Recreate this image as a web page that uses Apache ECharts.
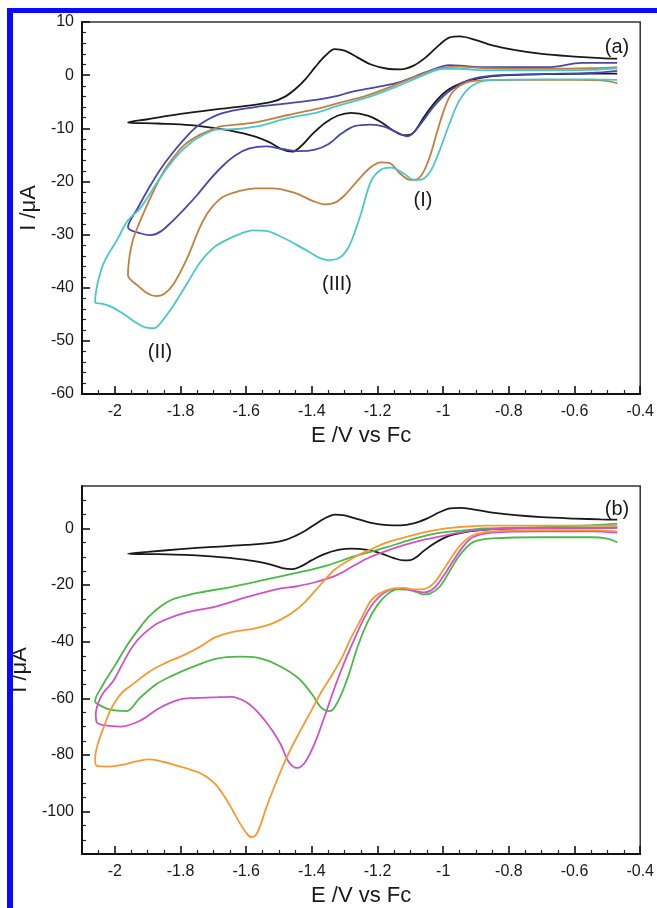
<!DOCTYPE html>
<html><head><meta charset="utf-8">
<script src="https://cdn.jsdelivr.net/npm/echarts@6/dist/echarts.min.js"></script>
<style>html,body{margin:0;padding:0;background:#fff}#c{width:657px;height:908px}</style>
</head><body><div id="c"></div>
<script>
// ---------- tick labels ----------
const xMajorTicks = [-2, -1.8, -1.6, -1.4, -1.2, -1, -0.8, -0.6, -0.4];
const yMajorTicksA = [-60, -50, -40, -30, -20, -10, 0, 10];
const yMajorTicksB = [-100, -80, -60, -40, -20, 0];

// ---------- data: [E (V vs Fc), I (uA)], scan order ----------
const blackCV = [
  [-0.47,0.3],[-0.55,0.3],[-0.65,0.2],[-0.75,0.1],[-0.85,-0.2],[-0.92,-1.0],[-0.97,-2.2],[-1.0,-3.5],
  [-1.03,-5.5],[-1.06,-8.0],[-1.08,-10.0],[-1.10,-11.2],[-1.12,-11.3],[-1.15,-10.5],[-1.19,-8.8],
  [-1.23,-7.6],[-1.28,-7.1],[-1.32,-7.6],[-1.36,-9.0],[-1.40,-11.2],[-1.43,-13.2],[-1.46,-14.4],
  [-1.49,-14.0],[-1.53,-12.6],[-1.57,-11.6],[-1.62,-10.8],[-1.68,-10.1],[-1.77,-9.4],[-1.87,-9.1],
  [-1.96,-8.9],
  [-1.90,-8.3],[-1.80,-7.3],[-1.70,-6.5],[-1.60,-5.8],[-1.52,-5.0],[-1.48,-4.0],[-1.45,-2.6],
  [-1.42,-0.8],[-1.39,1.5],[-1.36,3.6],[-1.33,4.9],[-1.30,4.6],[-1.26,3.3],[-1.22,2.0],[-1.17,1.2],
  [-1.13,1.1],[-1.09,1.8],[-1.05,3.5],[-1.01,5.8],[-0.98,7.1],[-0.95,7.3],[-0.90,6.6],[-0.85,5.6],
  [-0.78,4.7],[-0.70,4.0],[-0.60,3.5],[-0.52,3.2],[-0.47,3.1]
];
const blueCV_a = [
  [-0.47,0.8],[-0.55,0.4],[-0.7,0.2],[-0.85,-0.1],[-0.92,-0.9],[-0.97,-2.5],[-1.0,-4.0],[-1.03,-6.0],
  [-1.06,-8.5],[-1.09,-10.8],[-1.11,-11.5],[-1.14,-10.8],[-1.18,-9.7],[-1.22,-9.3],[-1.27,-9.6],
  [-1.31,-11.0],[-1.35,-13.0],[-1.39,-14.0],[-1.44,-14.3],[-1.49,-13.9],[-1.54,-13.4],[-1.59,-13.8],
  [-1.63,-15.0],[-1.67,-17.0],[-1.71,-19.6],[-1.75,-22.6],[-1.79,-25.3],[-1.83,-27.8],[-1.86,-29.4],
  [-1.89,-30.1],[-1.92,-29.8],[-1.96,-28.6],
  [-1.93,-25.0],[-1.895,-21.1],[-1.86,-17.6],[-1.825,-14.7],[-1.785,-11.8],[-1.744,-9.4],[-1.675,-7.2],
  [-1.572,-6.0],[-1.473,-5.3],[-1.382,-4.6],[-1.322,-3.9],[-1.282,-3.2],[-1.20,-2.2],[-1.132,-1.3],
  [-1.05,0.6],[-0.98,1.9],[-0.93,1.7],[-0.878,1.5],[-0.68,1.5],[-0.577,2.3],[-0.47,2.3]
];
const orangeCV_a = [
  [-0.47,-1.5],[-0.52,-1.0],[-0.6,-0.9],[-0.75,-0.9],[-0.88,-1.0],[-0.93,-1.4],[-0.96,-2.5],[-0.98,-4.0],
  [-1.0,-7.0],[-1.02,-11.0],[-1.04,-15.2],[-1.06,-18.2],[-1.08,-19.6],[-1.10,-19.7],[-1.13,-18.6],
  [-1.165,-16.5],[-1.19,-16.4],[-1.22,-17.3],[-1.26,-19.8],[-1.30,-22.6],[-1.33,-24.0],[-1.36,-24.3],
  [-1.40,-23.6],[-1.45,-22.2],[-1.52,-21.3],[-1.57,-21.3],[-1.62,-21.8],[-1.67,-22.9],[-1.71,-25.3],
  [-1.74,-28.5],[-1.78,-34.5],[-1.82,-39.2],[-1.85,-41.2],[-1.875,-41.6],[-1.90,-41.1],[-1.93,-39.6],
  [-1.96,-37.6],
  [-1.955,-34.0],[-1.945,-31.0],[-1.93,-28.5],[-1.905,-24.9],[-1.87,-20.3],[-1.844,-17.4],[-1.81,-14.6],
  [-1.784,-12.9],[-1.74,-11.2],[-1.705,-10.3],[-1.675,-9.6],[-1.572,-8.9],[-1.473,-7.5],[-1.382,-6.3],
  [-1.322,-5.3],[-1.231,-3.8],[-1.132,-1.5],[-1.06,0.3],[-1.0,1.4],[-0.95,1.6],[-0.878,1.3],[-0.68,1.2],
  [-0.55,1.3],[-0.47,1.5]
];
const cyanCV_a = [
  [-0.47,-0.9],[-0.55,-0.8],[-0.7,-0.8],[-0.85,-0.9],[-0.91,-1.9],[-0.95,-4.7],[-0.98,-9.0],[-1.01,-14.0],
  [-1.04,-18.2],[-1.07,-19.7],[-1.09,-19.7],[-1.12,-18.5],[-1.16,-17.4],[-1.19,-17.8],[-1.22,-20.0],
  [-1.25,-26.0],[-1.28,-31.3],[-1.30,-33.5],[-1.32,-34.5],[-1.35,-34.8],[-1.38,-34.3],[-1.41,-33.2],
  [-1.45,-31.8],[-1.49,-30.5],[-1.54,-29.3],[-1.58,-29.2],[-1.62,-29.9],[-1.66,-31.0],[-1.70,-32.5],
  [-1.74,-35.2],[-1.78,-39.2],[-1.82,-43.2],[-1.855,-46.2],[-1.88,-47.6],[-1.91,-47.4],[-1.94,-46.4],
  [-1.97,-45.1],[-2.01,-43.6],[-2.04,-43.0],[-2.06,-42.8],
  [-2.058,-41.0],[-2.05,-38.5],[-2.035,-35.5],[-2.015,-33.2],[-1.994,-31.1],[-1.961,-27.4],[-1.925,-25.2],
  [-1.895,-22.5],[-1.865,-19.6],[-1.835,-17.0],[-1.804,-14.7],[-1.774,-13.0],[-1.744,-11.7],[-1.684,-10.2],
  [-1.654,-10.2],[-1.572,-9.7],[-1.473,-8.1],[-1.382,-7.0],[-1.322,-5.8],[-1.231,-4.2],[-1.132,-1.9],
  [-1.06,0.0],[-1.0,1.2],[-0.95,1.2],[-0.878,0.9],[-0.68,0.9],[-0.55,1.0],[-0.47,1.3]
];
const greenCV_b = [
  [-0.47,-4.9],[-0.5,-3.6],[-0.55,-3.1],[-0.7,-3.1],[-0.85,-3.5],[-0.91,-4.9],[-0.95,-9.5],[-0.98,-15.0],
  [-1.01,-20.5],[-1.04,-23.0],[-1.06,-23.3],[-1.08,-22.5],[-1.11,-21.6],[-1.14,-21.5],[-1.17,-23.2],
  [-1.20,-27.0],[-1.23,-33.0],[-1.26,-41.5],[-1.29,-52.5],[-1.32,-61.0],[-1.345,-64.5],[-1.37,-63.5],
  [-1.40,-58.5],[-1.44,-53.0],[-1.50,-48.5],[-1.56,-45.8],[-1.62,-45.3],[-1.69,-46.0],[-1.765,-49.0],
  [-1.825,-52.0],[-1.874,-55.0],[-1.925,-60.0],[-1.964,-64.5],[-2.015,-64.0],[-2.045,-62.5],[-2.06,-61.0],
  [-2.055,-59.0],[-2.04,-56.0],[-2.025,-53.0],[-2.0,-48.5],[-1.964,-41.5],[-1.93,-36.0],[-1.895,-31.0],
  [-1.86,-27.5],[-1.825,-25.1],[-1.78,-23.6],[-1.744,-22.7],[-1.644,-20.6],[-1.542,-18.1],[-1.443,-15.6],
  [-1.352,-13.0],[-1.27,-9.8],[-1.171,-6.6],[-1.10,-4.0],[-1.02,-1.7],[-0.92,-0.5],[-0.878,0.0],
  [-0.7,0.5],[-0.577,1.0],[-0.47,1.7]
];
const magentaCV_b = [
  [-0.47,-1.5],[-0.55,-1.0],[-0.7,-1.0],[-0.85,-1.5],[-0.91,-3.1],[-0.94,-6.5],[-0.97,-11.5],[-1.0,-17.0],
  [-1.03,-21.3],[-1.06,-22.6],[-1.09,-22.0],[-1.12,-21.3],[-1.15,-21.4],[-1.18,-22.7],[-1.21,-26.0],
  [-1.24,-31.5],[-1.27,-39.0],[-1.30,-47.0],[-1.33,-56.0],[-1.36,-66.0],[-1.39,-75.5],[-1.42,-82.5],
  [-1.445,-84.6],[-1.47,-82.5],[-1.494,-76.5],[-1.52,-71.5],[-1.542,-68.0],[-1.572,-64.0],[-1.602,-61.2],
  [-1.644,-59.5],[-1.70,-59.7],[-1.76,-59.9],[-1.804,-60.5],[-1.865,-63.5],[-1.925,-68.0],[-1.985,-70.0],
  [-2.03,-69.6],[-2.055,-68.5],
  [-2.058,-65.5],[-2.05,-61.5],[-2.035,-58.0],[-2.006,-54.1],[-1.975,-47.5],[-1.945,-41.5],[-1.91,-37.0],
  [-1.865,-33.2],[-1.784,-29.7],[-1.693,-27.6],[-1.593,-24.1],[-1.494,-21.2],[-1.45,-20.5],[-1.39,-19.0],
  [-1.322,-16.4],[-1.27,-13.0],[-1.222,-10.1],[-1.17,-7.8],[-1.12,-5.9],[-1.07,-4.3],[-1.02,-3.1],
  [-0.95,-1.5],[-0.9,-0.7],[-0.8,0.0],[-0.6,0.2],[-0.47,0.3]
];
const orangeCV_b = [
  [-0.47,-1.0],[-0.55,-0.6],[-0.7,-0.6],[-0.85,-1.0],[-0.91,-2.4],[-0.94,-5.0],[-0.96,-7.7],[-1.0,-14.7],
  [-1.03,-19.5],[-1.06,-21.4],[-1.09,-21.5],[-1.12,-21.0],[-1.15,-21.2],[-1.19,-22.7],[-1.22,-25.5],
  [-1.25,-32.0],[-1.28,-38.5],[-1.31,-46.0],[-1.34,-52.0],[-1.37,-57.5],[-1.40,-64.0],[-1.44,-72.5],
  [-1.473,-80.0],[-1.51,-90.0],[-1.54,-99.0],[-1.557,-105.0],[-1.572,-108.5],[-1.585,-109.0],[-1.60,-107.5],
  [-1.62,-104.0],[-1.644,-99.0],[-1.67,-94.0],[-1.693,-90.4],[-1.72,-87.8],[-1.744,-86.2],[-1.78,-84.8],
  [-1.814,-83.7],[-1.85,-82.5],[-1.895,-81.6],[-1.93,-82.2],[-1.97,-83.3],[-2.015,-84.1],[-2.055,-83.9],
  [-2.06,-81.0],[-2.055,-77.5],[-2.046,-74.0],[-2.03,-69.0],[-2.015,-64.6],[-1.995,-60.5],[-1.975,-57.6],
  [-1.945,-55.0],[-1.895,-50.6],[-1.845,-47.5],[-1.795,-45.0],[-1.744,-42.0],[-1.693,-38.4],[-1.64,-36.5],
  [-1.584,-35.6],[-1.53,-34.0],[-1.494,-32.1],[-1.46,-29.8],[-1.421,-26.0],[-1.373,-19.8],[-1.33,-14.5],
  [-1.27,-10.1],[-1.222,-7.5],[-1.171,-4.9],[-1.12,-3.2],[-1.071,-1.7],[-1.02,-0.5],[-0.969,0.3],
  [-0.87,1.0],[-0.7,1.0],[-0.47,1.0]
];

// ---------- minor tick positions ----------
function range(a, b, step, skip) {
  const out = [];
  for (let k = Math.round(a / step); k <= Math.round(b / step); k++) {
    const v = +(k * step).toFixed(3);
    if (!skip(v)) out.push(v);
  }
  return out;
}
const isMultiple = (v, m) => Math.abs(v / m - Math.round(v / m)) < 1e-6;
const xMinorTicks = range(-2.05, -0.45, 0.05, v => isMultiple(v, 0.2));
const yMinorTicksA = range(-58, 8, 2, v => isMultiple(v, 10));
const yMinorTicksB = range(-110, 10, 5, v => isMultiple(v, 20));

const FONT = '"Liberation Sans", Arial, Helvetica, sans-serif';
const TXT = '#1a1a1a';

function xAxes(g) {
  return [{
    type: 'value', gridIndex: g, position: 'bottom', min: -2.1, max: -0.4,
    name: 'E /V vs Fc', nameLocation: 'middle', nameGap: 31,
    nameTextStyle: { fontFamily: FONT, fontSize: 22, color: TXT },
    axisLine: { show: true, onZero: false, lineStyle: { color: '#111', width: 2 } },
    axisTick: { show: true, inside: true, length: 8, customValues: xMajorTicks, lineStyle: { color: '#111', width: 1.6 } },
    axisLabel: { show: true, customValues: xMajorTicks, margin: 10, fontFamily: FONT, fontSize: 16, color: TXT,
      formatter: v => String(+(+v).toFixed(2)) },
    splitLine: { show: false }
  }, {
    type: 'value', gridIndex: g, position: 'bottom', min: -2.1, max: -0.4,
    axisLine: { show: false, onZero: false },
    axisTick: { show: true, inside: true, length: 4, customValues: xMinorTicks, lineStyle: { color: '#222', width: 1.2 } },
    axisLabel: { show: false }, splitLine: { show: false }
  }];
}
function yAxes(g, min, max, major, minor) {
  return [{
    type: 'value', gridIndex: g, position: 'left', min: min, max: max,
    name: 'I /μA', nameLocation: 'middle', nameGap: 36, nameRotate: 90,
    nameTextStyle: { fontFamily: FONT, fontSize: 22, color: TXT },
    axisLine: { show: true, onZero: false, lineStyle: { color: '#111', width: 2 } },
    axisTick: { show: true, inside: true, length: 8, customValues: major, lineStyle: { color: '#111', width: 1.6 } },
    axisLabel: { show: true, customValues: major, margin: 8, fontFamily: FONT, fontSize: 16, color: TXT },
    splitLine: { show: false }
  }, {
    type: 'value', gridIndex: g, position: 'left', min: min, max: max,
    axisLine: { show: false, onZero: false },
    axisTick: { show: true, inside: true, length: 4, customValues: minor, lineStyle: { color: '#222', width: 1.2 } },
    axisLabel: { show: false }, splitLine: { show: false }
  }];
}
function cv(data, color, g) {
  return {
    type: 'line', data: data, xAxisIndex: g * 2, yAxisIndex: g * 2,
    smooth: 0.35, showSymbol: false, symbol: 'none', silent: true,
    lineStyle: { color: color, width: 1.8 }
  };
}
function label(text, x, y) {
  return { type: 'text', x: x, y: y, z: 100,
    style: { text: text, fill: TXT, font: '20px ' + FONT, textAlign: 'center', textVerticalAlign: 'middle' } };
}

const chart = echarts.init(document.getElementById('c'), null, { renderer: 'canvas' });
chart.setOption({
  animation: false,
  backgroundColor: '#fff',
  grid: [
    { left: 82, top: 22, width: 564, height: 372, show: true, borderColor: '#333', borderWidth: 1.5, containLabel: false },
    { left: 82, top: 486, width: 564, height: 371, show: true, borderColor: '#333', borderWidth: 1.5, containLabel: false }
  ],
  xAxis: [...xAxes(0), ...xAxes(1)],
  yAxis: [...yAxes(0, -60, 10, yMajorTicksA, yMinorTicksA), ...yAxes(1, -115, 15, yMajorTicksB, yMinorTicksB)],
  series: [
    cv(blackCV, '#1a1a1a', 0),
    cv(blueCV_a, '#4848aa', 0),
    cv(orangeCV_a, '#c47f3e', 0),
    cv(cyanCV_a, '#4cc6cc', 0),
    cv(blackCV, '#1a1a1a', 1),
    cv(greenCV_b, '#4cb848', 1),
    cv(magentaCV_b, '#d052c8', 1),
    cv(orangeCV_b, '#f59a32', 1)
  ],
  graphic: [
    { type: 'rect', shape: { x: 7, y: 8, width: 6, height: 900 }, style: { fill: '#0a0aff' }, z: 100 },
    { type: 'rect', shape: { x: 7, y: 8, width: 650, height: 5 }, style: { fill: '#0a0aff' }, z: 100 },
    label('(a)', 617, 47),
    label('(I)', 423, 200),
    label('(III)', 337, 284),
    label('(II)', 160, 352),
    label('(b)', 617, 509)
  ]
});
</script></body></html>
